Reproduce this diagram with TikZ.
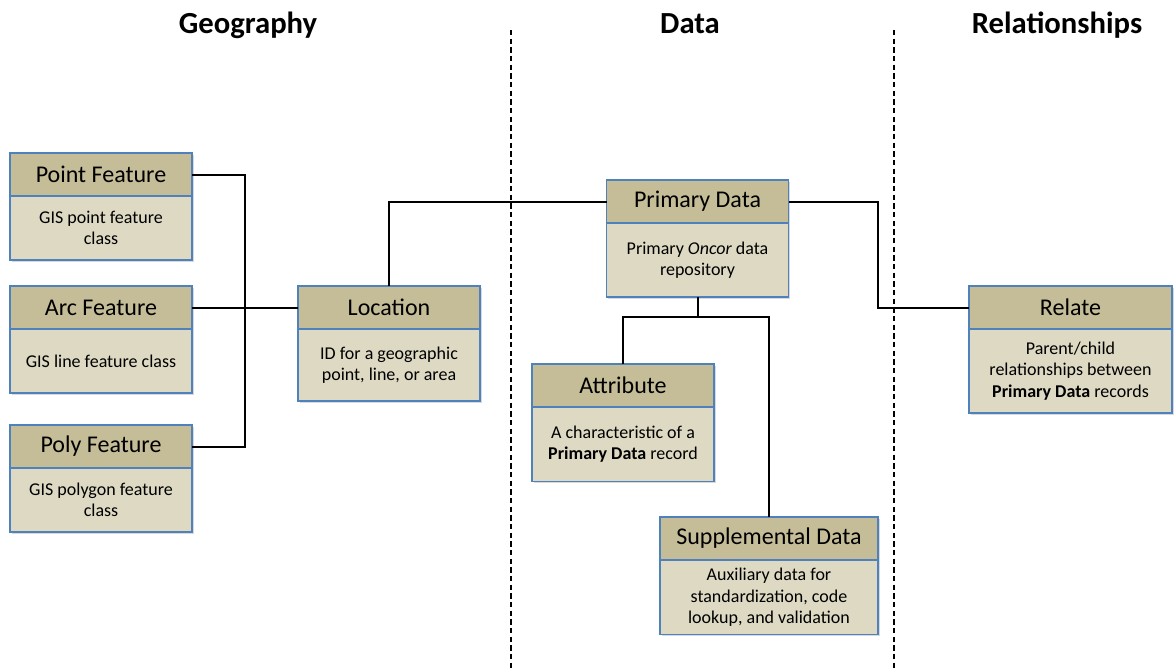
\documentclass[tikz,border=0pt]{standalone}
\usepackage{fontspec}
\setmainfont{Carlito}
\usetikzlibrary{positioning,shadows}
\definecolor{headtan}{RGB}{196,189,151}
\definecolor{bodytan}{RGB}{221,217,195}
\definecolor{boxblue}{RGB}{79,129,189}
\tikzset{
  boxshadow/.style={drop shadow={shadow xshift=1.2pt, shadow yshift=-1.2pt, opacity=0.3}},
  head/.style={rectangle, draw=boxblue, fill=headtan, line width=1.1pt, outer sep=0pt, inner sep=0pt,
    minimum width=136.5pt, minimum height=32.25pt, font=\fontsize{18}{20}\selectfont, boxshadow},
  desc/.style={rectangle, draw=boxblue, fill=bodytan, line width=1.1pt, outer sep=0pt, inner sep=0pt,
    minimum width=136.5pt, align=center, font=\fontsize{13.5}{16}\selectfont, boxshadow},
  title/.style={anchor=base, font=\fontsize{23}{26}\selectfont\bfseries},
  link/.style={line width=1.5pt},
  divider/.style={line width=0.8pt, dash pattern=on 4pt off 2.5pt},
}

\begin{document}
\begin{tikzpicture}[x=0.75pt,y=-0.75pt]
  \useasboundingbox (0,0) rectangle (1176,671);

  \node[title] (T_geo) at (248,33) {Geography};
  \node[title] (T_data) at (690,33) {Data};
  \node[title] (T_rel) at (1057,33) {Relationships};

  \draw[divider] (511,30) -- (511,671);
  \draw[divider] (894,30) -- (894,671);

  \node[head, anchor=north] (Point) at (101,153) {Point Feature};
  \node[desc, minimum height=48pt, below=0pt of Point] (Point_d) {GIS point feature\\class};
  \node[head, anchor=north] (Arc) at (101,286) {Arc Feature};
  \node[desc, minimum height=48pt, below=0pt of Arc] (Arc_d) {GIS line feature class};
  \node[head, anchor=north] (Poly) at (101,425) {Poly Feature};
  \node[desc, minimum height=48pt, below=0pt of Poly] (Poly_d) {GIS polygon feature\\class};
  \node[head, anchor=north] (Loc) at (389,286) {Location};
  \node[desc, minimum height=54pt, below=0pt of Loc] (Loc_d) {ID for a geographic\\point, line, or area};

  \node[head, anchor=north] (Prim) at (697.5,180) {Primary Data};
  \node[desc, minimum height=55.5pt, below=0pt of Prim] (Prim_d) {Primary \textit{Oncor} data\\repository};
  \node[head, anchor=north] (Attr) at (623,364) {Attribute};
  \node[desc, minimum height=56pt, below=0pt of Attr] (Attr_d) {A characteristic of a\\\textbf{Primary Data} record};
  \node[head, anchor=north, minimum width=163.5pt] (Supp) at (769,517) {Supplemental Data};
  \node[desc, minimum height=56pt, minimum width=163.5pt, below=0pt of Supp] (Supp_d) {Auxiliary data for\\standardization, code\\lookup, and validation};

  \node[head, anchor=north, minimum width=152.25pt] (Rel) at (1070.5,286) {Relate};
  \node[desc, minimum height=63pt, minimum width=152.25pt, below=0pt of Rel] (Rel_d) {Parent/child\\relationships between\\\textbf{Primary Data} records};

  \coordinate (geoJ) at (245,308);
  \coordinate (relJ) at (878,250);
  \coordinate (dataJ) at (697.5,317);

  \draw[link] (Point.east) -| (geoJ) |- (Poly.east);
  \draw[link] (Arc.east) -- (Loc.west);
  \draw[link] (Loc.north) |- (Prim.west);
  \draw[link] (Prim.east) -| (relJ) |- (Rel.west);
  \draw[link] (Prim_d.south) -- (dataJ) -| (Attr.north);
  \draw[link] (dataJ) -| (Supp.north);
\end{tikzpicture}
\end{document}
